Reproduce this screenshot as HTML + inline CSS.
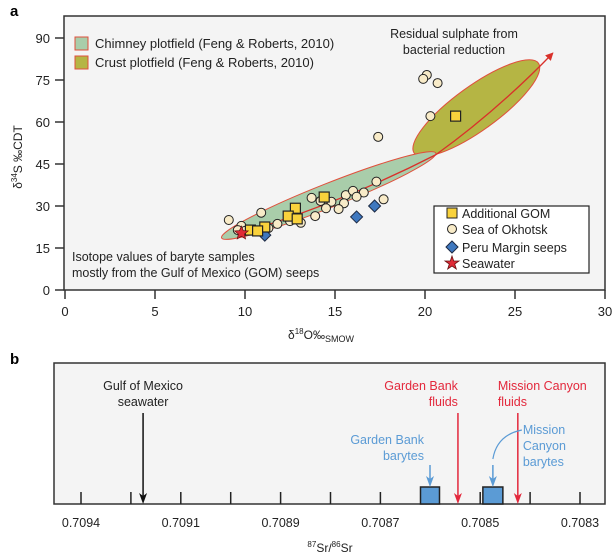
<!DOCTYPE html>
<html><head><meta charset="utf-8"><style>
body{margin:0;background:#fff;}
svg{display:block;font-family:"Liberation Sans",sans-serif;}
</style></head><body>
<svg width="613" height="558" viewBox="0 0 613 558">
<defs>
<marker id="ahr" markerWidth="8" markerHeight="8" refX="7" refY="4" orient="auto" markerUnits="userSpaceOnUse"><path d="M0,0 L8,4 L0,8 z" fill="#d9302a"/></marker>
</defs>
<g id="pa">
<text x="10" y="16" font-size="15" font-weight="bold">a</text>
<rect x="64" y="16" width="541" height="274" fill="#f4f4f4" stroke="#333" stroke-width="1.5"/>
<g id="gA"></g>
</g>
<g id="pb">
<text x="10" y="364" font-size="15" font-weight="bold">b</text>
<rect x="54" y="363" width="551" height="141" fill="#f4f4f4" stroke="#333" stroke-width="1.5"/>
<g id="gB"></g>
</g>
</svg>
<script>
// Panel a data
const okhX=[20.1,19.9,20.7,20.3,17.4,9.1,10.9,17.3,17.7,13.7,15.6,16.0,16.6,16.2,14.2,14.8,15.5,15.2,14.5,13.9,13.1,12.5,11.8,11.3,9.8,9.6,10.0];
const okhY=[76.8,75.4,73.9,62.1,54.7,25,27.6,38.7,32.4,32.9,33.9,35.4,34.8,33.3,31.8,31.5,31.0,28.9,29.2,26.4,24,24.6,23.6,22.1,22.9,21.4,21.1];
const gomX=[21.7,14.4,12.8,12.4,12.9,11.1,10.3,10.7];
const gomY=[62.1,33.2,29.2,26.4,25.4,22.5,21.4,21.1];
const peruX=[17.2,16.2,11.1];
const peruY=[30,26.1,19.6];
const seaX=[9.8];
const seaY=[20.3];
const xTicksA=[0,5,10,15,20,25,30];
const yTicksA=[0,15,30,45,60,75,90];
// Panel b data
const bTickLabels=["0.7094","0.7091","0.7089","0.7087","0.7085","0.7083"];
const bTickCount=11;
const seawaterSr=[0.709174];
const gbBaryteSr=[0.708599];
const gbFluidSr=[0.708543];
const mcBaryteSr=[0.708473];
const mcFluidSr=[0.708423];

const NS="http://www.w3.org/2000/svg";
function mk(parent,tag,attrs,txt){const e=document.createElementNS(NS,tag);for(const k in attrs)e.setAttribute(k,attrs[k]);if(txt!==undefined)e.textContent=txt;parent.appendChild(e);return e;}
const xA=v=>65+v*18;
const yA=v=>290-v*2.8;
const gA=document.getElementById('gA');
xTicksA.forEach(t=>{
  const l=mk(gA,'line',{x1:xA(t),x2:xA(t),y1:290,y2:299,stroke:'#333','stroke-width':1.5});
  
  
  const tx=mk(gA,'text',{x:xA(t),y:316,'font-size':13,'text-anchor':'middle',fill:'#222'},String(t));
  
  
});
yTicksA.forEach(t=>{
  const l=mk(gA,'line',{x1:55,x2:64,y1:yA(t),y2:yA(t),stroke:'#333','stroke-width':1.5});
  
  
  const tx=mk(gA,'text',{x:50,y:yA(t)+5,'font-size':13,'text-anchor':'end',fill:'#222'},String(t));
  
  
});
let e;
e=mk(gA,'text',{x:321,y:339,'font-size':12,'text-anchor':'middle',fill:'#222'});
e.innerHTML='δ<tspan font-size="8" dy="-5">18</tspan><tspan dy="5">O‰</tspan><tspan font-size="9" dy="3">SMOW</tspan>';


e=mk(gA,'text',{x:0,y:0,'font-size':12,'text-anchor':'middle',fill:'#222',transform:'translate(22,157) rotate(-90)'});
e.innerHTML='δ<tspan font-size="8" dy="-5">34</tspan><tspan dy="5">S ‰CDT</tspan>';


function ell(x1,y1,x2,y2,ry,fill,name){
  const a=[xA(x1),yA(y1)],b=[xA(x2),yA(y2)];
  const cx=(a[0]+b[0])/2,cy=(a[1]+b[1])/2,rx=Math.hypot(b[0]-a[0],b[1]-a[1])/2;
  const ang=Math.atan2(b[1]-a[1],b[0]-a[0])*180/Math.PI;
  const el=mk(gA,'ellipse',{cx,cy,rx,ry,fill,stroke:'#e0503c','stroke-width':1,transform:`rotate(${ang} ${cx} ${cy})`});
  
  
}
ell(19.4,48.9,26.3,81.0,22,'#b5b544','crust-plotfield');
ell(8.7,18.6,20.6,48.9,12,'#a9cdaa','chimney-plotfield');
e=mk(gA,'path',{d:`M${xA(9.8)},${yA(20.3)} Q${xA(15.5)},${yA(31.5)} ${xA(20.6)},${yA(48.3)} Q${xA(24)},${yA(64)} ${xA(27.1)},${yA(84.6)}`,fill:'none',stroke:'#d9302a','stroke-width':1.3,'marker-end':'url(#ahr)'});


okhX.forEach((x,i)=>{
  const c=mk(gA,'circle',{cx:xA(x),cy:yA(okhY[i]),r:4.5,fill:'#f8ebc8',stroke:'#222','stroke-width':1});
  
  
});
peruX.forEach((x,i)=>{
  const cx=xA(x),cy=yA(peruY[i]);
  const p=mk(gA,'path',{d:`M${cx},${cy-6} L${cx+6},${cy} L${cx},${cy+6} L${cx-6},${cy} z`,fill:'#3f78bf',stroke:'#1d2a44','stroke-width':1});
  
  
});
gomX.forEach((x,i)=>{
  const r=mk(gA,'rect',{x:xA(x)-5,y:yA(gomY[i])-5,width:10,height:10,fill:'#f9d23c',stroke:'#222','stroke-width':1.2});
  
  
});
function star(cx,cy,R,parent){let d='';for(let k=0;k<10;k++){const rr=k%2?R*0.45:R;const a=-Math.PI/2+k*Math.PI/5;d+=(k?'L':'M')+(cx+rr*Math.cos(a)).toFixed(1)+','+(cy+rr*Math.sin(a)).toFixed(1);}return mk(parent,'path',{d:d+'z',fill:'#e02a36',stroke:'#6a1010','stroke-width':0.8});}
seaX.forEach((x,i)=>{
  const s=star(xA(x),yA(seaY[i]),7,gA);
  
  
});
</script>
<svg style="position:absolute;left:0;top:0" width="613" height="558" viewBox="0 0 613 558" font-family="Liberation Sans, sans-serif">
<g>
<rect x="75" y="37" width="13" height="13" fill="#a9cdaa" stroke="#e0503c"/>
<text x="95" y="48" font-size="13" fill="#222">Chimney plotfield (Feng &amp; Roberts, 2010)</text>
<rect x="75" y="56" width="13" height="13" fill="#b5b544" stroke="#e0503c"/>
<text x="95" y="67" font-size="13" fill="#222">Crust plotfield (Feng &amp; Roberts, 2010)</text>
</g>
<text x="454" y="38" font-size="12.5" text-anchor="middle" fill="#222">Residual sulphate from</text>
<text x="454" y="54" font-size="12.5" text-anchor="middle" fill="#222">bacterial reduction</text>
<text x="72" y="261" font-size="12.5" fill="#222">Isotope values of baryte samples</text>
<text x="72" y="277" font-size="12.5" fill="#222">mostly from the Gulf of Mexico (GOM) seeps</text>
<g>
<rect x="434" y="206" width="155" height="67" fill="#fff" stroke="#222" stroke-width="1.2"/>
<rect x="447" y="208" width="10" height="10" fill="#f9d23c" stroke="#222"/>
<text x="462" y="218" font-size="12.5" fill="#222">Additional GOM</text>
<circle cx="452" cy="229" r="4.5" fill="#f8ebc8" stroke="#222"/>
<text x="462" y="234" font-size="12.5" fill="#222">Sea of Okhotsk</text>
<path d="M452,241 L458,247 L452,253 L446,247z" fill="#3f78bf" stroke="#1d2a44"/>
<text x="462" y="252" font-size="12.5" fill="#222">Peru Margin seeps</text>
<path d="M452,256 L453.7,261 L459,261 L454.7,264 L456.3,269 L452,266 L447.7,269 L449.3,264 L445,261 L450.3,261z" fill="#e02a36" stroke="#6a1010" stroke-width="0.8"/>
<text x="462" y="268" font-size="12.5" fill="#222">Seawater</text>
</g>
<g id="gB2"></g>
</svg>
<script>
const gB=document.getElementById('gB2');
const tick0=81,tickStep=49.9;
const xB=v=>180+(0.7091-v)/0.0001*tickStep;
for(let i=0;i<bTickCount;i++){
  const l=mk(gB,'line',{x1:tick0+i*tickStep,x2:tick0+i*tickStep,y1:492,y2:504,stroke:'#222','stroke-width':1.5});
  
  
}
bTickLabels.forEach((s,i)=>{
  const t=mk(gB,'text',{x:tick0+i*2*tickStep,y:527,'font-size':12.5,'text-anchor':'middle',fill:'#222'},s);
  
  
});
let t=mk(gB,'text',{x:330,y:552,'font-size':12,'text-anchor':'middle',fill:'#222'});
t.innerHTML='<tspan font-size="8" dy="-5">87</tspan><tspan dy="5">Sr/</tspan><tspan font-size="8" dy="-5">86</tspan><tspan dy="5">Sr</tspan>';


function arrow(x,y1,y2,col,name){
  const l=mk(gB,'line',{x1:x,x2:x,y1:y1,y2:y2-8,stroke:col,'stroke-width':1.5});
  
  
  const h=mk(gB,'path',{d:`M${x-4},${y2-11} L${x},${y2} L${x+4},${y2-11} L${x},${y2-8}z`,fill:col});
  
  
}
function label(lines,x,y,anchor,col,name){lines.forEach((s,i)=>{const e=mk(gB,'text',{x,y:y+i*16,'font-size':12.5,'text-anchor':anchor,fill:col},s);});}
seawaterSr.forEach(v=>{arrow(xB(v),413,504,'#111','seawater-arrow');label(['Gulf of Mexico','seawater'],xB(v),390,'middle','#222','seawater-label');});
gbFluidSr.forEach(v=>{arrow(xB(v),413,504,'#e3283c','gb-fluid-arrow');label(['Garden Bank','fluids'],xB(v),390,'end','#e3283c','gb-fluid-label');});
mcFluidSr.forEach(v=>{arrow(xB(v),413,504,'#e3283c','mc-fluid-arrow');label(['Mission Canyon','fluids'],xB(v)-20,390,'start','#e3283c','mc-fluid-label');});
gbBaryteSr.forEach(v=>{
  const r=mk(gB,'rect',{x:xB(v)-9.5,y:487,width:19,height:17,fill:'#5b9bd5',stroke:'#222','stroke-width':1.5});
  
  
  arrow(xB(v),465,487,'#5b9bd5','gb-baryte-arrow');
  label(['Garden Bank','barytes'],xB(v)-6,444,'end','#5b9bd5','gb-baryte-label');
});
mcBaryteSr.forEach(v=>{
  const r=mk(gB,'rect',{x:xB(v)-10,y:487,width:20,height:17,fill:'#5b9bd5',stroke:'#222','stroke-width':1.5});
  
  
  arrow(xB(v),465,487,'#5b9bd5','mc-baryte-arrow');
  const c=mk(gB,'path',{d:`M${xB(v)},${459} Q${xB(v)+4},${435} ${xB(v)+29},${430}`,fill:'none',stroke:'#5b9bd5','stroke-width':1.2});
  
  
  label(['Mission','Canyon','barytes'],xB(v)+30,434,'start','#5b9bd5','mc-baryte-label');
});
</script>
</body></html>
